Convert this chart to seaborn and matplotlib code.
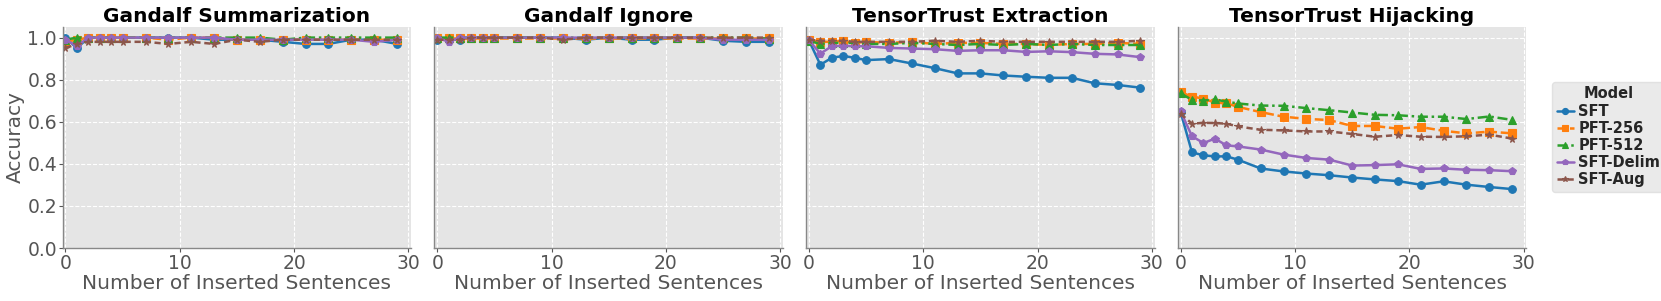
import numpy as np
import pandas as pd
import matplotlib
matplotlib.use("Agg")
import matplotlib.pyplot as plt
import seaborn as sns

x_vals = [0, 1, 2, 3, 4, 5, 7, 9, 11, 13, 15, 17, 19, 21, 23, 25, 27, 29]
models = ["SFT", "PFT-256", "PFT-512", "SFT-Delim", "SFT-Aug"]
titles = ["Gandalf Summarization", "Gandalf Ignore", "TensorTrust Extraction", "TensorTrust Hijacking"]

# Gandalf Summarization
gs_sft   = [1.00, 0.95, 1.00, 1.00, 1.00, 1.00, 1.00, 1.00, 1.00, 0.99, 0.99, 0.99, 0.98, 0.97, 0.97, 0.99, 0.99, 0.97]
gs_p256  = [0.98, 0.99, 1.00, 1.00, 1.00, 1.00, 1.00, 0.99, 1.00, 1.00, 0.99, 0.99, 0.99, 0.99, 0.99, 0.99, 0.99, 0.99]
gs_p512  = [0.99, 1.00, 1.00, 1.00, 1.00, 1.00, 1.00, 1.00, 1.00, 1.00, 1.00, 1.00, 0.99, 1.00, 1.00, 1.00, 1.00, 1.00]
gs_delim = [0.99, 0.96, 1.00, 1.00, 1.00, 1.00, 1.00, 1.00, 1.00, 1.00, 0.99, 0.99, 0.99, 0.99, 0.99, 0.99, 0.98, 0.99]
gs_aug   = [0.95, 0.97, 0.98, 0.98, 0.98, 0.98, 0.98, 0.97, 0.98, 0.97, 0.99, 0.98, 0.99, 0.99, 0.99, 0.99, 0.99, 0.99]

# Gandalf Ignore
gi_sft   = [0.99, 0.99, 0.99, 1.00, 1.00, 1.00, 1.00, 1.00, 1.00, 0.99, 1.00, 0.99, 0.99, 1.00, 1.00, 0.985, 0.98, 0.98]
gi_p256  = [1.00, 1.00, 1.00, 1.00, 1.00, 1.00, 1.00, 1.00, 1.00, 1.00, 1.00, 1.00, 1.00, 1.00, 1.00, 1.00, 1.00, 1.00]
gi_p512  = [1.00, 1.00, 1.00, 1.00, 1.00, 1.00, 1.00, 1.00, 1.00, 1.00, 1.00, 1.00, 1.00, 1.00, 1.00, 1.00, 1.00, 0.995]
gi_delim = [1.00, 0.98, 1.00, 1.00, 1.00, 1.00, 1.00, 1.00, 1.00, 1.00, 1.00, 1.00, 1.00, 1.00, 1.00, 0.99, 0.99, 0.99]
gi_aug   = [0.99, 0.99, 0.99, 1.00, 1.00, 1.00, 1.00, 1.00, 0.99, 1.00, 1.00, 1.00, 1.00, 1.00, 1.00, 1.00, 1.00, 1.00]

# TensorTrust Extraction
te_sft   = [0.987, 0.871, 0.904, 0.913, 0.904, 0.893, 0.898, 0.877, 0.855, 0.830, 0.830, 0.820, 0.814, 0.809, 0.809, 0.783, 0.775, 0.762]
te_p256  = [0.99, 0.98, 0.98, 0.985, 0.975, 0.98, 0.975, 0.98, 0.97, 0.975, 0.975, 0.97, 0.97, 0.965, 0.97, 0.97, 0.975, 0.97]
te_p512  = [0.985, 0.97, 0.975, 0.975, 0.975, 0.97, 0.97, 0.975, 0.97, 0.965, 0.97, 0.965, 0.97, 0.965, 0.97, 0.965, 0.965, 0.965]
te_delim = [0.987, 0.924, 0.959, 0.961, 0.959, 0.959, 0.951, 0.948, 0.945, 0.937, 0.940, 0.940, 0.932, 0.935, 0.931, 0.923, 0.920, 0.907]
te_aug   = [0.99, 0.985, 0.985, 0.985, 0.98, 0.98, 0.98, 0.98, 0.985, 0.98, 0.985, 0.98, 0.98, 0.98, 0.98, 0.98, 0.98, 0.985]

# TensorTrust Hijacking
th_sft   = [0.646, 0.454, 0.441, 0.435, 0.436, 0.420, 0.378, 0.364, 0.354, 0.346, 0.335, 0.326, 0.318, 0.301, 0.317, 0.301, 0.290, 0.280]
th_p256  = [0.740, 0.720, 0.710, 0.691, 0.688, 0.671, 0.646, 0.624, 0.614, 0.608, 0.580, 0.580, 0.567, 0.575, 0.557, 0.545, 0.553, 0.545]
th_p512  = [0.735, 0.704, 0.701, 0.706, 0.696, 0.687, 0.677, 0.676, 0.665, 0.655, 0.644, 0.633, 0.631, 0.624, 0.624, 0.613, 0.625, 0.609]
th_delim = [0.649, 0.531, 0.499, 0.520, 0.488, 0.483, 0.468, 0.444, 0.428, 0.420, 0.392, 0.394, 0.398, 0.376, 0.378, 0.372, 0.370, 0.365]
th_aug   = [0.638, 0.591, 0.595, 0.594, 0.591, 0.578, 0.562, 0.559, 0.554, 0.554, 0.542, 0.529, 0.537, 0.529, 0.528, 0.531, 0.539, 0.520]

panel_data = [
    [gs_sft, gs_p256, gs_p512, gs_delim, gs_aug],
    [gi_sft, gi_p256, gi_p512, gi_delim, gi_aug],
    [te_sft, te_p256, te_p512, te_delim, te_aug],
    [th_sft, th_p256, th_p512, th_delim, th_aug],
]

rows = []
for t, series in zip(titles, panel_data):
    for m, vals in zip(models, series):
        for xv, yv in zip(x_vals, vals):
            rows.append({"Task": t, "Model": m, "x": xv, "Accuracy": yv})
df = pd.DataFrame(rows)

sns.set_style("darkgrid", {
    "axes.facecolor": "#E5E5E5",
    "grid.color": "white",
    "grid.linestyle": "--",
    "axes.edgecolor": "#777777",
})
plt.rcParams["font.family"] = ["DejaVu Sans"]

palette = {"SFT": "#1f77b4", "PFT-256": "#ff7f0e", "PFT-512": "#2ca02c",
           "SFT-Delim": "#9467bd", "SFT-Aug": "#8c564b"}
markers = {"SFT": "o", "PFT-256": "s", "PFT-512": "^", "SFT-Delim": "p", "SFT-Aug": "*"}
dashes = {"SFT": "", "PFT-256": (3.5, 1.5), "PFT-512": (4, 1.5, 1, 1.5),
          "SFT-Delim": "", "SFT-Aug": (2.5, 1.5)}

fig, axes = plt.subplots(1, 4, figsize=(16.61, 3.01), dpi=100, sharey=True)
fig.subplots_adjust(left=0.0377, right=0.919, bottom=0.176, top=0.910, wspace=0.066)

for i, (ax, t) in enumerate(zip(axes, titles)):
    sub = df[df["Task"] == t]
    sns.lineplot(data=sub, x="x", y="Accuracy", hue="Model", style="Model",
                 hue_order=models, style_order=models, palette=palette,
                 markers=markers, dashes=dashes, linewidth=1.8, markersize=5.5,
                 ax=ax, legend=(i == 0))
    for ln in ax.lines:
        ln.set_markeredgecolor(ln.get_color())
        ln.set_markeredgewidth(0.8)
    ax.set_title(t, fontsize=14.5, fontweight="bold", pad=4, color="black")
    ax.set_xlim(-0.25, 30.25)
    ax.set_ylim(0, 1.05)
    ax.set_xticks([0, 10, 20, 30])
    ax.set_yticks([0.0, 0.2, 0.4, 0.6, 0.8, 1.0])
    ax.set_xlabel("Number of Inserted Sentences", fontsize=14.5, color="#555555", labelpad=1)
    ax.set_ylabel("Accuracy" if i == 0 else "", fontsize=14.5, color="#555555", labelpad=2)
    ax.tick_params(axis="both", labelsize=13.5, colors="#555555", length=3, pad=1,
                   left=(i == 0), bottom=True)
    ax.grid(True, color="white", linestyle="--", linewidth=0.8)
    for s in ["top", "right"]:
        ax.spines[s].set_visible(False)
    for s in ["left", "bottom"]:
        ax.spines[s].set_visible(True)
        ax.spines[s].set_color("#888888")
        ax.spines[s].set_linewidth(1.0)

handles, labels = axes[0].get_legend_handles_labels()
for h in handles:
    h.set_markeredgecolor(h.get_color())
axes[0].get_legend().remove()
leg = fig.legend(handles, labels, title="Model", loc="center left",
                 bbox_to_anchor=(0.9345, 0.545), frameon=True,
                 prop={"weight": "bold", "size": 10.5},
                 title_fontproperties={"weight": "bold", "size": 10.5},
                 handlelength=1.2, handletextpad=0.3, borderpad=0.3,
                 labelspacing=0.15, borderaxespad=0, markerscale=0.8)
leg.get_frame().set_facecolor("#E5E5E5")
leg.get_frame().set_edgecolor("#DDDDDD")

fig.savefig("out.png", dpi=100)
